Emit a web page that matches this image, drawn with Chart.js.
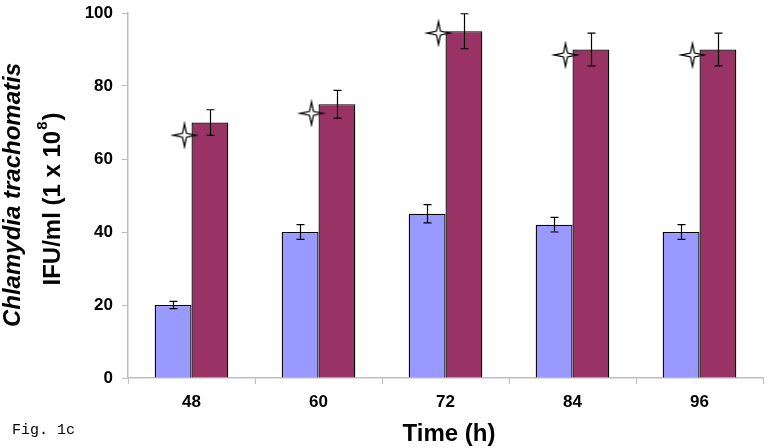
<!DOCTYPE html>
<html>
<head>
<meta charset="utf-8">
<script src="https://cdn.jsdelivr.net/npm/chart.js@4/dist/chart.umd.min.js"></script>
<style>
  html, body { margin: 0; padding: 0; background: #fff; }
  #wrap { position: relative; width: 774px; height: 448px; }
</style>
</head>
<body>
<div id="wrap"><canvas id="cv" width="774" height="448"></canvas></div>
<script>
// Dados
const tempos = ['48', '60', '72', '84', '96'];
const controle = [20, 40, 45, 42, 40];
const controleErro = [1, 2, 2.5, 2, 2];
const tratado = [70, 75, 95, 90, 90];
const tratadoErro = [3.5, 3.8, 4.8, 4.5, 4.5];
const estrelas = [66.5, 72.5, 94.5, 88.5, 88.5];
const yTicks = [0, 20, 40, 60, 80, 100];

const AZUL = '#9999ff';
const VINHO = '#993366';
const EIXO = '#bdbdbd';
const FONTE = '"Liberation Sans", Arial, sans-serif';

// estrela de 4 pontas (contorno), deslocada pra esquerda do centro da categoria
function fazEstrela() {
  const c = document.createElement('canvas');
  c.width = 44; c.height = 28;
  const g = c.getContext('2d');
  const cx = 22 - 7, cy = 14, R = 11.5, r = 2.8;
  g.beginPath();
  for (let i = 0; i < 8; i++) {
    const a = -Math.PI / 2 + i * Math.PI / 4;
    const rr = i % 2 === 0 ? R : r;
    const px = cx + Math.cos(a) * rr, py = cy + Math.sin(a) * rr;
    if (i === 0) g.moveTo(px, py); else g.lineTo(px, py);
  }
  g.closePath();
  g.fillStyle = '#fff';
  g.fill();
  g.strokeStyle = '#000';
  g.lineWidth = 1.3;
  g.stroke();
  return c;
}
const imgEstrela = fazEstrela();

// barras de erro
const barrasErro = {
  id: 'barrasErro',
  afterDatasetsDraw(chart) {
    const ctx = chart.ctx;
    const y = chart.scales.y;
    const pares = [[0, controle, controleErro], [1, tratado, tratadoErro]];
    ctx.save();
    ctx.strokeStyle = '#000';
    ctx.lineWidth = 1.2;
    pares.forEach(([ds, vals, errs]) => {
      const meta = chart.getDatasetMeta(ds);
      meta.data.forEach((bar, i) => {
        const x = Math.round(bar.x) + 0.5;
        const yt = y.getPixelForValue(vals[i] + errs[i]);
        const yb = y.getPixelForValue(vals[i] - errs[i]);
        ctx.beginPath();
        ctx.moveTo(x, yt); ctx.lineTo(x, yb);
        ctx.moveTo(x - 4, yt); ctx.lineTo(x + 4, yt);
        ctx.moveTo(x - 4, yb); ctx.lineTo(x + 4, yb);
        ctx.stroke();
      });
    });
    ctx.restore();
  }
};

// títulos e legenda da figura
const textos = {
  id: 'textos',
  afterDraw(chart) {
    const ctx = chart.ctx;
    ctx.save();
    ctx.fillStyle = '#000';
    ctx.textBaseline = 'middle';

    // título eixo X
    ctx.font = 'bold 24px ' + FONTE;
    ctx.textAlign = 'center';
    ctx.fillText('Time (h)', 449, 434);

    // Fig. 1c
    ctx.font = '15px "Liberation Mono", "DejaVu Sans Mono", monospace';
    ctx.textAlign = 'left';
    ctx.fillText('Fig. 1c', 12, 430);

    // título eixo Y (duas linhas)
    ctx.save();
    ctx.translate(13, 195);
    ctx.rotate(-Math.PI / 2);
    ctx.textAlign = 'center';
    ctx.font = 'italic bold 24px ' + FONTE;
    ctx.fillText('Chlamydia trachomatis', 0, 0);
    ctx.restore();

    ctx.save();
    ctx.translate(53, 200);
    ctx.rotate(-Math.PI / 2);
    ctx.textAlign = 'left';
    const f1 = 'bold 24px ' + FONTE;
    const f2 = 'bold 15px ' + FONTE;
    const a = 'IFU/ml (1 x 10', b = '8', c = ')';
    ctx.font = f1; const wa = ctx.measureText(a).width; const wc = ctx.measureText(c).width;
    ctx.font = f2; const wb = ctx.measureText(b).width;
    const x0 = -(wa + wb + wc) / 2;
    ctx.font = f1; ctx.fillText(a, x0, 0);
    ctx.font = f2; ctx.fillText(b, x0 + wa + 1, -10);
    ctx.font = f1; ctx.fillText(c, x0 + wa + wb + 2, 0);
    ctx.restore();

    ctx.restore();
  }
};

new Chart(document.getElementById('cv'), {
  type: 'bar',
  data: {
    labels: tempos,
    datasets: [
      { label: 'Controle', data: controle, backgroundColor: AZUL, borderColor: '#000', borderWidth: 1.3,
        categoryPercentage: 0.58, barPercentage: 1, order: 2 },
      { label: 'Tratado', data: tratado, backgroundColor: VINHO, borderColor: '#000', borderWidth: 1.3,
        categoryPercentage: 0.58, barPercentage: 1, order: 2 },
      { type: 'line', label: 'sig', data: estrelas, showLine: false, pointStyle: imgEstrela,
        pointRadius: 10, pointHoverRadius: 10, order: 0 }
    ]
  },
  options: {
    responsive: false,
    animation: false,
    events: [],
    layout: { padding: { top: 13, right: 4, left: 0, bottom: 0 } },
    plugins: { legend: { display: false }, tooltip: { enabled: false } },
    scales: {
      x: {
        grid: { display: true, offset: true, drawOnChartArea: false, drawTicks: true, tickLength: 6, color: EIXO },
        border: { display: true, color: EIXO, width: 1.5 },
        ticks: { color: '#000', font: { family: FONTE, size: 17, weight: 'bold' }, padding: 8 },
        afterFit(s) { s.height = 70; s.paddingLeft = 0; s.paddingRight = 0; }
      },
      y: {
        min: 0, max: 100,
        afterBuildTicks(s) { s.ticks = yTicks.map(v => ({ value: v })); },
        grid: { display: true, drawOnChartArea: false, drawTicks: true, tickLength: 6, color: EIXO },
        border: { display: true, color: EIXO, width: 1.5 },
        ticks: { color: '#000', font: { family: FONTE, size: 17, weight: 'bold' }, padding: 9 },
        afterFit(s) { s.width = 128; s.paddingTop = 0; s.paddingBottom = 0; }
      }
    }
  },
  plugins: [barrasErro, textos]
});
</script>
</body>
</html>
